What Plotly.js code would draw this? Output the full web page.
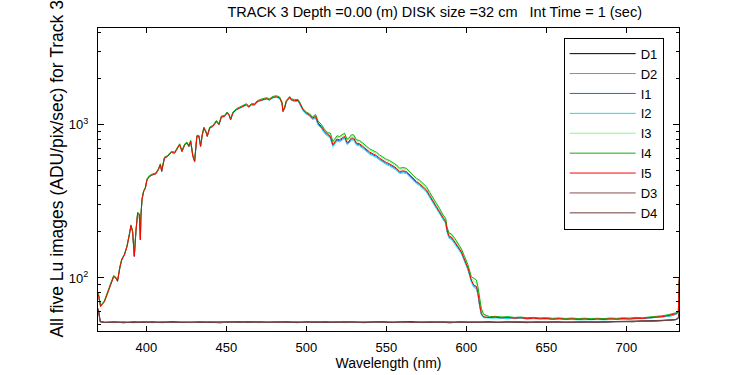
<!DOCTYPE html>
<html>
<head>
<meta charset="utf-8">
<script src="https://cdn.plot.ly/plotly-3.0.1.min.js"></script>
<style>html,body{margin:0;padding:0;background:#fff;}#chart{width:750px;height:375px;}</style>
</head>
<body>
<div id="chart"></div>
<script>
// ---- Data ----
const wavelength = [
 370.0, 371.4, 373.8, 375.8, 377.5, 379.6, 381.0, 382.0, 383.5, 384.6,
 386.3, 387.9, 389.4, 390.4, 391.4, 392.5, 393.5, 394.6, 395.6, 396.3,
 396.6, 397.3, 398.3, 399.4, 400.4, 401.9, 403.9, 406.0, 407.5, 408.8,
 409.6, 411.3, 413.3, 415.6, 417.7, 419.1, 420.8, 422.3, 424.0, 425.4,
 426.6, 427.7, 429.1, 430.2, 430.8, 431.6, 432.9, 433.9, 435.0, 436.0,
 437.5, 438.1, 439.6, 441.6, 443.8, 445.4, 446.9, 448.9, 450.4, 451.6,
 452.7, 454.1, 456.3, 458.3, 460.4, 462.5, 464.1, 465.6, 467.7, 469.1,
 470.8, 472.9, 475.0, 477.0, 479.1, 481.3, 483.3, 484.8, 485.4, 486.4,
 487.5, 489.6, 490.6, 492.7, 494.8, 495.8, 497.9, 500.0, 502.0, 503.8,
 505.8, 507.3, 509.4, 511.4, 513.5, 515.0, 516.6, 517.7, 519.1, 520.8,
 522.9, 523.9, 525.4, 526.6, 528.1, 529.6, 531.3, 533.3, 535.4, 537.5,
 539.6, 541.6, 543.8, 545.8, 547.9, 550.0, 552.0, 554.1, 556.3, 558.3,
 560.4, 562.5, 564.6, 566.6, 568.8, 570.8, 572.9, 575.0, 577.1, 579.1,
 581.3, 583.3, 585.4, 587.1, 587.9, 589.1, 590.6, 592.7, 594.8, 596.9,
 598.9, 601.0, 603.1, 604.6, 606.3, 607.3, 608.3, 609.4, 610.8,
 614.6, 618, 622, 626, 630, 634, 638, 642, 646, 650, 654, 658, 662, 666, 670, 674,
 678, 682, 686, 690, 694, 698, 702, 706, 710, 714, 718, 722, 726, 729, 731, 732.5, 733
];

const I1 = [
 78, 66, 70, 80, 91, 102, 100, 96, 119, 131,
 142, 160, 193, 219, 202, 140, 201, 266, 258, 179,
 251, 325, 366, 387, 436, 460, 471, 480, 508, 550,
 497, 605, 623, 660, 655, 687, 742, 669, 740, 762,
 721, 780, 623, 577, 653, 845, 839, 723, 860, 955,
 882, 841, 951, 980, 1051, 1003, 1123, 1136, 1192, 1165,
 1080, 1192, 1256, 1285, 1320, 1351, 1300, 1351, 1348, 1407,
 1432, 1456, 1476, 1452, 1503, 1518, 1490, 1382, 1220, 1280,
 1415, 1500, 1450, 1430, 1432, 1375, 1243, 1180, 1148, 1092,
 1116, 1011, 960, 890, 847, 826, 729, 755, 794, 786,
 819, 826, 755, 766, 806, 806, 748, 740, 710, 677,
 653, 636, 621, 596, 575, 558, 548, 532, 513, 488,
 493, 488, 464, 441, 420, 407, 389, 370, 340, 311,
 288, 266, 242, 230, 203, 185, 182, 170, 158, 146,
 129, 114, 96, 89, 87, 78, 66, 58, 55.5,
 55.0, 55.2, 55.1, 54.9, 54.8, 54.6, 54.5, 54.3, 54.4, 54.0, 54.1, 53.9, 53.9, 53.7, 53.9, 53.6,
 53.8, 53.7, 53.9, 53.8, 54.1, 54.0, 54.3, 54.2, 54.6, 54.7, 55.1, 55.5, 56.3, 57.0, 58.0, 59.5, 96
];

const I2 = [
 78, 65, 71, 79, 90, 101, 100, 95, 118, 130,
 141, 159, 191, 218, 200, 138, 200, 264, 257, 177,
 250, 323, 365, 384, 434, 458, 470, 477, 506, 546,
 494, 603, 619, 658, 651, 685, 737, 667, 737, 756,
 719, 775, 619, 573, 651, 836, 836, 719, 857, 947,
 878, 836, 947, 971, 1046, 996, 1118, 1128, 1187, 1157,
 1073, 1187, 1247, 1279, 1311, 1345, 1299, 1345, 1345, 1400,
 1426, 1446, 1468, 1445, 1495, 1510, 1482, 1373, 1210, 1272,
 1405, 1490, 1440, 1418, 1422, 1366, 1234, 1172, 1140, 1082,
 1099, 995, 946, 877, 834, 814, 718, 743, 782, 774,
 806, 814, 743, 755, 793, 793, 736, 728, 699, 666,
 643, 627, 611, 587, 566, 550, 539, 524, 505, 480,
 485, 480, 457, 435, 413, 401, 383, 365, 335, 307,
 283, 262, 239, 226, 200, 182, 179, 168, 155, 144,
 127, 113, 94, 87, 85, 77, 65, 57, 55,
 54.8, 54.9, 54.6, 54.8, 54.3, 54.5, 54.0, 54.2, 53.8, 54.0, 53.6, 53.8, 53.4, 53.6, 53.3, 53.5,
 53.2, 53.5, 53.3, 53.7, 53.5, 53.9, 53.7, 54.1, 54.0, 54.5, 54.8, 55.3, 56.1, 56.9, 57.8, 59, 94
];

const I3 = [
 79, 65, 70, 79, 91, 103, 101, 96, 119, 132,
 142, 161, 192, 220, 202, 139, 202, 266, 259, 178,
 252, 326, 368, 387, 438, 461, 473, 480, 511, 551,
 497, 608, 624, 663, 656, 690, 744, 672, 744, 763,
 725, 782, 624, 578, 656, 843, 843, 725, 864, 956,
 886, 843, 956, 980, 1056, 1005, 1129, 1139, 1198, 1168,
 1083, 1198, 1259, 1291, 1324, 1358, 1312, 1358, 1358, 1414,
 1442, 1463, 1486, 1463, 1515, 1531, 1502, 1393, 1228, 1291,
 1427, 1515, 1463, 1442, 1448, 1393, 1259, 1198, 1168, 1114,
 1150, 1041, 990, 918, 873, 864, 762, 789, 830, 822,
 856, 864, 789, 801, 843, 843, 782, 774, 743, 708,
 683, 665, 649, 623, 602, 584, 573, 556, 537, 510,
 515, 510, 485, 461, 439, 425, 407, 387, 355, 325,
 301, 278, 253, 240, 212, 194, 191, 178, 165, 152,
 135, 119, 100, 95, 93, 84, 71, 61, 57,
 55.6, 55.8, 55.4, 55.5, 55.1, 55.3, 54.8, 54.9, 54.6, 54.7, 54.3, 54.5, 54.1, 54.3, 54.0, 54.2,
 53.9, 54.2, 54.0, 54.4, 54.2, 54.6, 54.4, 54.8, 54.7, 55.2, 55.5, 56.1, 57.0, 57.8, 58.8, 60.5, 98
];

const I4 = [
 81, 66, 71, 80, 91, 104, 101, 96, 120, 133,
 143, 162, 194, 222, 204, 140, 204, 269, 262, 180,
 255, 329, 371, 391, 443, 466, 478, 485, 516, 556,
 502, 614, 630, 670, 663, 697, 751, 679, 751, 770,
 732, 790, 630, 584, 663, 852, 852, 732, 873, 965,
 895, 852, 965, 990, 1067, 1015, 1140, 1150, 1210, 1179,
 1094, 1210, 1272, 1304, 1337, 1371, 1325, 1371, 1371, 1428,
 1457, 1478, 1501, 1478, 1530, 1546, 1517, 1407, 1240, 1304,
 1441, 1530, 1478, 1457, 1463, 1407, 1272, 1210, 1179, 1123,
 1167, 1057, 1004, 931, 886, 881, 777, 804, 846, 838,
 873, 881, 804, 817, 859, 859, 797, 789, 757, 721,
 696, 678, 662, 635, 613, 595, 584, 567, 547, 520,
 525, 520, 495, 470, 447, 434, 415, 395, 362, 332,
 307, 284, 258, 245, 216, 197, 194, 182, 168, 155,
 138, 122, 102, 99, 97, 87, 74, 63, 58,
 55.9, 56.2, 55.6, 55.9, 55.3, 55.6, 55.0, 55.3, 54.8, 55.1, 54.5, 54.9, 54.4, 54.8, 54.3, 54.7,
 54.2, 54.6, 54.3, 54.8, 54.5, 55.0, 54.7, 55.3, 55.0, 55.6, 55.9, 56.6, 57.5, 58.3, 59.3, 61, 99
];

const I5 = [
 78, 65, 70, 79, 90, 102, 100, 95, 118, 131,
 141, 160, 191, 219, 201, 138, 201, 265, 258, 177,
 251, 324, 366, 385, 436, 459, 471, 478, 508, 548,
 495, 605, 621, 660, 653, 687, 740, 669, 740, 759,
 721, 778, 621, 575, 653, 839, 839, 721, 860, 951,
 882, 839, 951, 975, 1051, 1000, 1123, 1133, 1192, 1162,
 1078, 1192, 1253, 1285, 1317, 1351, 1305, 1351, 1351, 1407,
 1435, 1456, 1479, 1456, 1507, 1523, 1495, 1386, 1222, 1285,
 1420, 1507, 1456, 1435, 1441, 1386, 1253, 1192, 1162, 1106,
 1133, 1026, 975, 904, 860, 839, 740, 766, 806, 798,
 831, 839, 766, 778, 818, 818, 759, 751, 721, 687,
 663, 646, 630, 605, 584, 567, 556, 540, 521, 495,
 500, 495, 471, 448, 426, 413, 395, 376, 345, 316,
 292, 270, 246, 233, 206, 188, 185, 173, 160, 148,
 131, 116, 97, 90, 88, 79, 67, 58.5, 55.7,
 55.2, 55.6, 54.9, 55.3, 54.6, 55.0, 54.2, 54.7, 54.1, 54.5, 53.8, 54.3, 53.7, 54.1, 53.6, 54.0,
 53.5, 54.0, 53.6, 54.2, 53.8, 54.4, 54.0, 54.6, 54.3, 55.0, 55.2, 55.9, 56.8, 57.5, 58.5, 60, 100
];

const darkWavelength = [
 370, 371.2, 374, 380, 386, 392, 398, 404, 410, 416,
 422, 428, 434, 440, 446, 452, 458, 464, 470, 476,
 482, 488, 494, 500, 506, 512, 518, 524, 530, 536,
 542, 548, 554, 560, 566, 572, 578, 584, 590, 596,
 602, 608, 614, 620, 626, 632, 638, 644, 650, 656,
 662, 668, 674, 680, 686, 692, 698, 704, 710, 716,
 722, 728, 731, 732.5, 733
];

const D1 = [
 62, 52.0, 51.2, 51.6, 51.0, 51.8, 51.3, 51.7, 51.1, 51.9,
 51.4, 51.2, 51.8, 51.5, 51.0, 51.6, 51.9, 51.3, 51.7, 51.2,
 51.5, 51.8, 51.1, 51.6, 51.4, 51.9, 51.2, 51.7, 51.5, 51.1,
 51.6, 51.8, 51.3, 51.5, 51.9, 51.2, 51.6, 51.4, 51.0, 51.7,
 51.5, 51.3, 51.8, 51.2, 51.6, 51.4, 51.1, 51.7, 51.3, 51.6,
 51.2, 51.5, 51.8, 51.4, 51.7, 51.6, 52.0, 51.8, 52.3, 52.2,
 52.6, 53.0, 53.4, 54.5, 58
];
const D2 = [
 61, 51.8, 51.5, 51.1, 51.7, 51.3, 51.9, 51.2, 51.6, 51.4,
 51.8, 51.1, 51.5, 51.9, 51.3, 51.2, 51.6, 51.8, 51.1, 51.5,
 51.7, 51.3, 51.6, 51.2, 51.9, 51.4, 51.8, 51.1, 51.6, 51.7,
 51.2, 51.5, 51.8, 51.1, 51.4, 51.7, 51.3, 51.9, 51.5, 51.2,
 51.8, 51.6, 51.2, 51.7, 51.3, 51.8, 51.5, 51.2, 51.7, 51.4,
 51.6, 51.3, 51.5, 51.8, 51.5, 51.9, 51.7, 52.1, 52.0, 52.4,
 52.5, 52.9, 53.5, 54.8, 59
];
const D3 = [
 63, 51.6, 51.4, 51.8, 51.2, 51.6, 51.5, 51.1, 51.8, 51.3,
 51.6, 51.5, 51.2, 51.8, 51.4, 51.7, 51.3, 51.6, 51.9, 51.4,
 51.2, 51.6, 51.8, 51.3, 51.7, 51.5, 51.4, 51.9, 51.2, 51.6,
 51.8, 51.3, 51.5, 51.7, 51.2, 51.6, 51.9, 51.3, 51.6, 51.5,
 51.3, 51.8, 51.5, 51.6, 51.2, 51.7, 51.4, 51.6, 51.5, 51.3,
 51.7, 51.4, 51.6, 51.7, 51.4, 51.8, 51.9, 51.9, 52.2, 52.3,
 52.8, 53.2, 53.6, 55, 60
];
const D4 = [
 63, 51.9, 51.3, 51.5, 51.6, 51.1, 51.7, 51.6, 51.3, 51.7,
 51.3, 51.7, 51.5, 51.2, 51.8, 51.4, 51.5, 51.9, 51.4, 51.6,
 51.8, 51.4, 51.3, 51.8, 51.5, 51.2, 51.7, 51.4, 51.8, 51.3,
 51.5, 51.7, 51.2, 51.8, 51.6, 51.4, 51.3, 51.7, 51.6, 51.3,
 51.6, 51.4, 51.6, 51.3, 51.8, 51.5, 51.7, 51.4, 51.6, 51.8,
 51.4, 51.7, 51.5, 51.6, 51.8, 51.7, 51.8, 52.0, 52.1, 52.5,
 52.7, 53.1, 53.7, 55.2, 61
];

const xTickVals = [400, 450, 500, 550, 600, 650, 700];
const yTickVals = [100, 1000];
const yTickText = ['10<sup>2</sup>', '10<sup>3</sup>'];
const yMinorVals = [50, 60, 70, 80, 90, 200, 300, 400, 500, 600, 700, 800, 900, 2000, 3000, 4000];

const seriesNames = ['D1', 'D2', 'I1', 'I2', 'I3', 'I4', 'I5', 'D3', 'D4'];
const seriesColors = ['#000000', '#8c8c8c', '#0a6fe0', '#10e0f8', '#80ff80', '#10b010', '#ff0000', '#885050', '#6e3c3c'];

// ---- Build traces ----
const seriesX = [darkWavelength, darkWavelength, wavelength, wavelength, wavelength, wavelength, wavelength, darkWavelength, darkWavelength];
const seriesY = [D1, D2, I1, I2, I3, I4, I5, D3, D4];
const FONT = 'Liberation Sans, Arial, Helvetica, sans-serif';

const traces = seriesNames.map((name, i) => ({
  type: 'scatter',
  mode: 'lines',
  name: name,
  x: seriesX[i],
  y: seriesY[i],
  line: {color: seriesColors[i], width: 1}
}));

const layout = {
  width: 750,
  height: 375,
  margin: {l: 98, r: 71, t: 28, b: 44, pad: 0},
  paper_bgcolor: '#ffffff',
  plot_bgcolor: '#ffffff',
  font: {family: FONT, size: 13, color: '#000000'},
  title: {
    text: 'TRACK 3 Depth =0.00 (m) DISK size =32 cm &nbsp; Int Time = 1 (sec)',
    font: {family: FONT, size: 14.5, color: '#000000'},
    x: 0.5795, xref: 'paper', xanchor: 'center',
    y: 0.968, yref: 'container', yanchor: 'middle'
  },
  showlegend: true,
  legend: {
    x: 0.8015, y: 0.968, xanchor: 'left', yanchor: 'top',
    bgcolor: '#ffffff', bordercolor: '#000000', borderwidth: 1,
    font: {family: FONT, size: 13, color: '#000000'},
    itemwidth: 66,
    entrywidth: 30, entrywidthmode: 'pixels',
    tracegroupgap: 0
  },
  xaxis: {
    range: [369.8, 732.9],
    tickmode: 'array', tickvals: xTickVals,
    ticks: 'inside', ticklen: 5, tickwidth: 1, tickcolor: '#000000',
    ticklabelstandoff: 4,
    showline: true, linecolor: '#000000', linewidth: 1, mirror: 'ticks',
    showgrid: false, zeroline: false,
    tickfont: {family: FONT, size: 13, color: '#000000'},
    title: {text: 'Wavelength (nm)', font: {family: FONT, size: 14, color: '#000000'}, standoff: 4}
  },
  yaxis: {
    type: 'log',
    range: [1.654, 3.631],
    tickmode: 'array', tickvals: yTickVals, ticktext: yTickText,
    ticks: 'inside', ticklen: 6, tickwidth: 1, tickcolor: '#000000',
    ticklabelstandoff: 6,
    minor: {tickmode: 'array', tickvals: yMinorVals, ticks: 'inside', ticklen: 3, tickcolor: '#000000', showgrid: false},
    showline: true, linecolor: '#000000', linewidth: 1, mirror: 'ticks',
    showgrid: false, zeroline: false,
    tickfont: {family: FONT, size: 13, color: '#000000'}
  },
  annotations: [{
    text: 'All five Lu images (ADU/pix/sec) for Track 3',
    textangle: -90,
    xref: 'paper', yref: 'paper',
    x: -0.0706, y: 0.536, xanchor: 'center', yanchor: 'middle',
    showarrow: false,
    font: {family: FONT, size: 17.5, color: '#000000'}
  }]
};

Plotly.newPlot('chart', traces, layout, {staticPlot: true, displayModeBar: false});
</script>
</body>
</html>
